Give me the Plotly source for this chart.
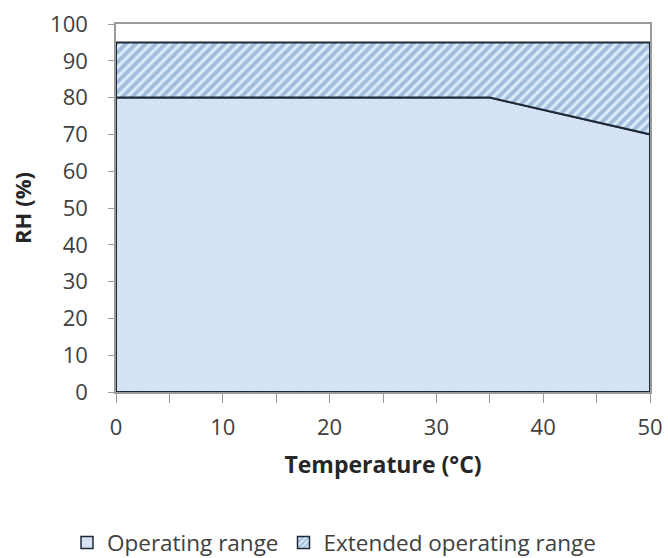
import plotly.graph_objects as go

temperature = [0, 35, 50]
operating_rh = [80, 80, 70]
extended_rh = [95, 95, 95]
series_names = ["Operating range", "Extended operating range"]
x_ticks = [0, 10, 20, 30, 40, 50]
y_ticks = [0, 10, 20, 30, 40, 50, 60, 70, 80, 90, 100]

FONT = "Open Sans"
TXT = "#404040"
EDGE = "#1f2a36"

# closed polygons built from the data arrays
op_x = temperature + [temperature[-1], temperature[0], temperature[0]]
op_y = operating_rh + [0, 0, operating_rh[0]]
ext_x = temperature + temperature[::-1] + [temperature[0]]
ext_y = extended_rh + operating_rh[::-1] + [extended_rh[0]]

OP_PATTERN = dict(shape="\\", fgcolor="#c9d9ef", bgcolor="#d7e4f5", size=4, solidity=0.3)
EXT_PATTERN = dict(shape="/", fgcolor="#6a8cbd", bgcolor="#d9ecf8", size=7, solidity=0.55)

fig = go.Figure()
fig.add_trace(go.Scatter(
    x=op_x, y=op_y, name=series_names[0], showlegend=False,
    mode="lines", line=dict(color=EDGE, width=2),
    fill="toself", fillcolor="#d5e2f3", fillpattern=OP_PATTERN,
))
fig.add_trace(go.Scatter(
    x=ext_x, y=ext_y, name=series_names[1], showlegend=False,
    mode="lines", line=dict(color=EDGE, width=2),
    fill="toself", fillcolor="#d9ecf8", fillpattern=EXT_PATTERN,
))
# legend swatches (square boxes as in the reference)
fig.add_trace(go.Bar(
    x=[None], y=[None], name=series_names[0],
    marker=dict(color="#d5e2f3", line=dict(color=EDGE, width=1.5)),
))
fig.add_trace(go.Bar(
    x=[None], y=[None], name=series_names[1],
    marker=dict(color="#d9ecf8", line=dict(color=EDGE, width=1.5),
                pattern=dict(shape="/", fgcolor="#5a7fb5", bgcolor="#d9ecf8", size=5, solidity=0.4)),
))

fig.update_layout(
    width=668, height=558,
    margin=dict(l=116, r=18, t=24, b=166, autoexpand=False),
    paper_bgcolor="white", plot_bgcolor="white",
    font=dict(family=FONT, size=22, color=TXT),
    showlegend=True,
    legend=dict(orientation="h", xref="container", yref="container",
                x=0.5, xanchor="center", y=0.027, yanchor="middle",
                font=dict(family=FONT, size=22.5, color=TXT), itemwidth=30,
                traceorder="normal"),
    xaxis=dict(range=[0, 50], tickvals=x_ticks, showgrid=False, zeroline=False,
               automargin=False,
               showline=True, linecolor="#9a9a9a", linewidth=1.5, mirror=True,
               ticks="outside", ticklen=9, tickcolor="#9a9a9a",
               minor=dict(dtick=5, ticks="outside", ticklen=9, tickcolor="#9a9a9a"),
               ticklabelstandoff=6,
               tickfont=dict(family=FONT, size=22, color=TXT),
               title=dict(text="<b>Temperature (°C)</b>", font=dict(family=FONT, size=23, color="#262626"), standoff=17)),
    yaxis=dict(range=[0, 100], tickvals=y_ticks, showgrid=False, zeroline=False,
               automargin=False,
               showline=True, linecolor="#9a9a9a", linewidth=1.5, mirror=True,
               ticks="outside", ticklen=6, tickcolor="#9a9a9a",
               ticklabelstandoff=16,
               tickfont=dict(family=FONT, size=22, color=TXT),
               title=dict(text="<b>RH (%)</b>", font=dict(family=FONT, size=22, color="#262626"), standoff=12)),
)

fig.write_html("out.html")
